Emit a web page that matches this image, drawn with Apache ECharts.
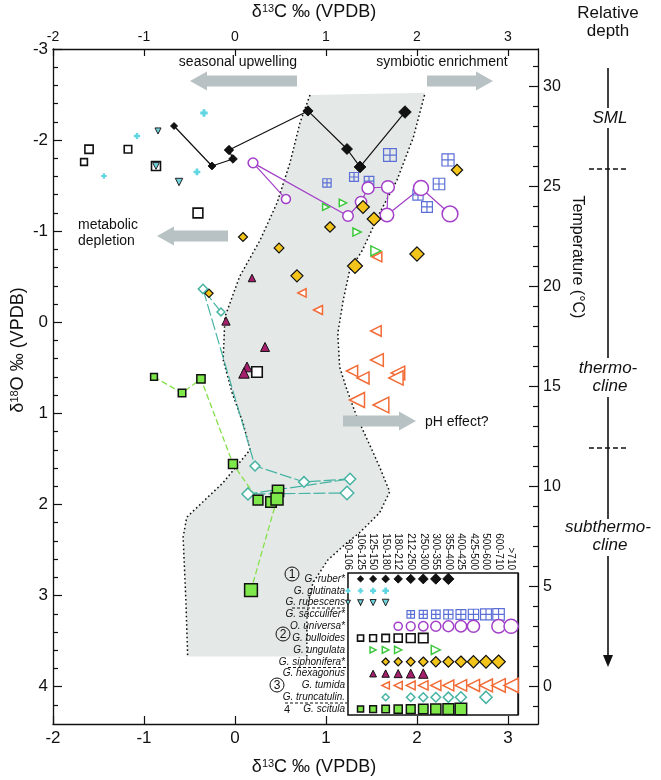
<!DOCTYPE html>
<html><head><meta charset="utf-8">
<script src="https://cdn.jsdelivr.net/npm/echarts@6/dist/echarts.min.js"></script>
<style>html,body{margin:0;padding:0;background:#fff}#c{width:661px;height:780px}</style>
</head><body><div id="c"></div>
<script>
// ---------------- DATA ----------------
const sizeFractions = ['80-106','106-125','125-150','150-180','180-212','212-250','250-300','300-355','355-400','400-425','425-500','500-600','600-710','>710'];
const speciesNames = ['G. ruber*','G. glutinata','G. rubescens','G. sacculifer*','O. universa*','G. bulloides','G. ungulata','G. siphonifera*','G. hexagonus','G. tumida','G. truncatulin.','G. scitula'];
const xTicks = [-2,-1,0,1,2,3];
const yTicks = [-3,-2,-1,0,1,2,3,4];
const tempTicks = [0,5,10,15,20,25,30];

// each point: [d13C, d18O, size-fraction index]
const ruber = [[-0.67,-2.155,1],[-0.253,-1.716,2],[-0.022,-1.793,3],[-0.066,-1.891,4],[0.802,-2.32,5],[1.231,-1.902,6],[1.374,-1.705,7],[1.868,-2.308,8]];
const glutinata = [[-0.341,-2.297,3],[-1.077,-2.045,1],[-1.44,-1.606,0],[-0.418,-1.65,2]];
const rubescens = [[-0.846,-2.10,1],[-0.615,-1.54,3],[-0.868,-1.716,2]];
const sacculifer = [[1.011,-1.53,5],[1.308,-1.595,6],[1.473,-1.55,7],[2.011,-1.397,8],[2.11,-1.266,9],[2.242,-1.518,10],[2.341,-1.782,11],[1.703,-1.836,12]];
const universa = [[0.56,-1.353,4],[0.198,-1.75,5],[1.242,-1.167,6],[1.385,-1.32,7],[1.462,-1.474,8],[1.681,-1.485,9],[1.67,-1.178,10],[2.044,-1.474,12],[2.363,-1.189,13]];
const bulloides = [[-1.659,-1.76,1],[-1.176,-1.90,2],[-1.604,-1.90,3],[-0.868,-1.716,4],[-0.407,-1.20,5],[0.242,0.546,6]];
const ungulata = [[1.0,-1.266,2],[1.187,-1.31,3],[1.341,-0.99,4],[1.549,-0.783,7]];
const siphonifera = [[-0.286,-0.318,3],[0.088,-0.936,4],[0.484,-0.816,5],[1.044,-1.046,6],[2.44,-1.672,7],[0.681,-0.51,8],[1.407,-1.266,9],[1.527,-1.134,10],[2.0,-0.75,11],[1.319,-0.618,12]];
const hexagonus = [[0.187,-0.486,2],[-0.099,-0.014,3],[0.33,0.271,4],[0.132,0.49,5],[0.099,0.556,6]];
const tumida = [[0.736,-0.322,3],[0.912,-0.135,4],[1.56,-0.717,5],[1.549,0.095,6],[1.286,0.535,7],[1.407,0.611,8],[1.56,0.414,9],[1.791,0.556,10],[1.769,0.611,11],[1.341,0.853,12],[1.604,0.908,13]];
const truncatulinoides = [[-0.154,-0.113,3],[-0.352,-0.366,5],[0.22,1.577,6],[0.758,1.753,7],[1.264,1.72,8],[0.143,1.885,9],[1.231,1.874,11]];
const scitula = [[-0.89,0.60,1],[-0.582,0.776,2],[-0.374,0.622,3],[-0.022,1.555,4],[0.253,1.951,5],[0.396,1.973,6],[0.473,1.852,7],[0.462,1.94,8],[0.176,2.939,9]];

// size fractions present per species (legend matrix), species order
const legendFractions = [
  [1,2,3,4,5,6,7,8],
  [0,1,2,3],
  [0,1,2,3],
  [5,6,7,8,9,10,11,12],
  [4,5,6,7,8,9,10,12,13],
  [1,2,3,4,5,6],
  [2,3,4,7],
  [3,4,5,6,7,8,9,10,11,12],
  [2,3,4,5,6],
  [3,4,5,6,7,8,9,10,11,12,13],
  [3,5,6,7,8,9,11],
  [1,2,3,4,5,6,7,8,9]
];

// shaded equilibrium band boundaries [d13C, d18O]
const bandLeft = [[0.824,-2.495],[0.714,-2.19],[0.604,-1.75],[0.462,-1.31],[0.275,-0.90],[0.05,-0.5],[-0.11,-0.06],[-0.13,0.41],[-0.03,0.78],[0.09,1.11],[0.165,1.40],[-0.13,1.76],[-0.53,2.14],[-0.57,2.36],[-0.54,3.05],[-0.52,3.67]];
const bandRight = [[0.79,3.67],[0.79,3.27],[0.81,3.05],[0.857,2.86],[1.02,2.61],[1.23,2.42],[1.37,2.31],[1.59,2.09],[1.70,1.86],[1.59,1.59],[1.505,1.40],[1.34,1.04],[1.23,0.74],[1.15,0.49],[1.13,0.12],[1.19,-0.245],[1.26,-0.57],[1.40,-0.79],[1.59,-1.20],[1.78,-1.56],[1.96,-2.03],[2.09,-2.52]];

// ---------------- STYLE ----------------
const FONT = 'Liberation Sans, Arial, Helvetica, sans-serif';
const plusPath = 'path://M3 0H7V3H10V7H7V10H3V7H0V3H3Z';
const gridSq = 'path://M0 0H10V10H0Z M5 0V10 M0 5H10';
const styles = [
  {sym:'diamond', fill:'#111', stroke:'#000', bw:0.8, k:1.05, line:{color:'#111', width:1.2}},
  {sym:plusPath, fill:'#5fd6e2', stroke:'#5fd6e2', bw:0, k:0.9},
  {sym:'triangle', rot:180, fill:'#6fd3dc', stroke:'#222', bw:1, k:0.9, z:5},
  {sym:gridSq, fill:'rgba(0,0,0,0)', stroke:'#5b6fd6', bw:1.2, k:0.85},
  {sym:'circle', fill:'#fff', stroke:'#a23fc8', bw:1.5, k:1, line:{color:'#a23fc8', width:1.2}},
  {sym:'rect', fill:'#fff', stroke:'#111', bw:1.6, k:1},
  {sym:'triangle', rot:-90, fill:'#fff', stroke:'#3cc83c', bw:1.5, k:0.9},
  {sym:'diamond', fill:'#f3c41a', stroke:'#111', bw:1.2, k:1},
  {sym:'triangle', fill:'#a51f6c', stroke:'#111', bw:1, k:1},
  {sym:'triangle', rot:90, fill:'#fff', stroke:'#f26b35', bw:1.5, k:1},
  {sym:'diamond', fill:'#fff', stroke:'#47b3a3', bw:1.5, k:0.95, line:{color:'#47b3a3', width:1.2, type:[12,3]}},
  {sym:'rect', fill:'#7ee84a', stroke:'#111', bw:1.5, k:1, line:{color:'#86e04a', width:1.3, type:[6,3]}}
];
function sz(col, k){ return (6 + col*0.75)*k; }

const mainData = [ruber, glutinata, rubescens, sacculifer, universa, bulloides, ungulata, siphonifera, hexagonus, tumida, truncatulinoides, scitula];

const series = [];
// band
series.push({
  type:'custom', xAxisIndex:0, yAxisIndex:0, z:1, silent:true, data:[[0,0]],
  renderItem:(params, api)=>({type:'polygon', shape:{points: bandLeft.concat(bandRight).map(p=>api.coord(p))}, style:{fill:'#e4e9e7'}})
});
[bandLeft, bandRight].forEach(b=>series.push({
  type:'line', xAxisIndex:0, yAxisIndex:0, data:b, symbol:'none', z:2, silent:true,
  lineStyle:{color:'#111', width:1.5, type:[1.6,2.6]}
}));
mainData.forEach((d,i)=>{
  const st = styles[i];
  const base = {
    name:speciesNames[i], xAxisIndex:0, yAxisIndex:0, data:d,
    symbol:st.sym, symbolRotate:st.rot||0,
    symbolSize:v=>sz(v[2], st.k),
    itemStyle:{color:st.fill, borderColor:st.stroke, borderWidth:st.bw, opacity:1},
    z:st.z||3, silent:true
  };
  if (st.line) series.push(Object.assign(base,{type:'line', showSymbol:true, showAllSymbol:true, lineStyle:st.line}));
  else series.push(Object.assign(base,{type:'scatter'}));
});
legendFractions.forEach((cols,i)=>{
  const st = styles[i];
  series.push({
    type:'scatter', xAxisIndex:2, yAxisIndex:4, data:cols.map(c=>[c,i,c]),
    symbol:st.sym, symbolRotate:st.rot||0, symbolSize:v=>sz(v[2], st.k)*0.9,
    itemStyle:{color:st.fill, borderColor:st.stroke, borderWidth:st.bw, opacity:1},
    z:6, silent:true
  });
});

// ---------------- ANNOTATIONS ----------------
function arrowPts(x0, x1, y, bh, hh, hl){
  const d = Math.sign(x1-x0), xb = x1 - d*hl;
  return [[x0,y-bh],[xb,y-bh],[xb,y-hh],[x1,y],[xb,y+hh],[xb,y+bh],[x0,y+bh]];
}
const G = [];
const gray = '#b8c2c4';
[[297,190,81],[427,493,81],[228,157,236],[343,416,421]].forEach(([a,b,y])=>
  G.push({type:'polygon', shape:{points:arrowPts(a,b,y,5.5,9.5,17)}, style:{fill:gray}, z:10}));
function txt(x,y,text,o){
  o = o||{};
  G.push({type:'text', x:x, y:y, rotation:o.rot||0, z:11,
    style:Object.assign({text:text, fill:'#111', fontFamily:FONT, fontSize:o.fs||14, fontStyle:o.it?'italic':'normal',
      textAlign:o.align||'center', textVerticalAlign:'middle'}, o.rich?{rich:o.rich}:{})});
}
txt(238,62,'seasonal upwelling');
txt(442,62,'symbiotic enrichment');
txt(78,225,'metabolic',{align:'left'});
txt(78,241,'depletion',{align:'left'});
txt(425,422,'pH effect?',{align:'left'});

const richT = {a:{fontSize:18, fontFamily:FONT, fill:'#111'}, s:{fontSize:11, fontFamily:FONT, fill:'#111', verticalAlign:'top', lineHeight:18}};
txt(314,12,'{a|δ}{s|13}{a|C ‰ (VPDB)}',{rich:richT});
txt(314,767,'{a|δ}{s|13}{a|C ‰ (VPDB)}',{rich:richT});
txt(18,350,'{a|δ}{s|18}{a|O ‰ (VPDB)}',{rich:richT, rot:Math.PI/2});
txt(577,257,'Temperature (°C)',{fs:16, rot:-Math.PI/2});

// relative depth column
txt(608,13,'Relative',{fs:17});
txt(608,31,'depth',{fs:17});
txt(610,118,'SML',{fs:17, it:true});
txt(608,368,'thermo-',{fs:17, it:true});
txt(610,386,'cline',{fs:17, it:true});
txt(608,527,'subthermo-',{fs:17, it:true});
txt(610,545,'cline',{fs:17, it:true});
[[68,108],[128,358],[397,519],[556,660]].forEach(([a,b])=>
  G.push({type:'line', shape:{x1:608,y1:a,x2:608,y2:b}, style:{stroke:'#111', lineWidth:1.6}, z:10}));
G.push({type:'polygon', shape:{points:[[603,655],[613,655],[608,667]]}, style:{fill:'#111'}, z:10});
[169,448].forEach(y=>G.push({type:'line', shape:{x1:589,y1:y,x2:629,y2:y}, style:{stroke:'#111', lineWidth:1.3, lineDash:[5,3]}, z:10}));

// inset legend decorations
[[292,608],[288,667.5],[285,703]].forEach(([x,y])=>
  G.push({type:'line', shape:{x1:x,y1:y,x2:347,y2:y}, style:{stroke:'#111', lineWidth:1, lineDash:[3,2]}, z:10}));
[[292,574,'1'],[283,634,'2'],[277,685,'3']].forEach(([x,y,t])=>{
  G.push({type:'circle', shape:{cx:x,cy:y,r:7}, style:{fill:'none', stroke:'#111', lineWidth:1}, z:10});
  txt(x,y+0.5,t,{fs:12});
});
txt(287,710,'4',{fs:11});

// ---------------- CHART ----------------
const tickStyle = {color:'#111', width:1.2};
const option = {
  animation:false,
  backgroundColor:'#fff',
  textStyle:{fontFamily:FONT},
  grid:[
    {left:53, top:49, width:485, height:675, show:false},
    {left:348, top:573, width:170, height:142, show:true, borderColor:'#111', borderWidth:1.5, backgroundColor:'#fff', z:4}
  ],
  xAxis:[
    {type:'value', gridIndex:0, position:'bottom', min:-2, max:3.33,
     axisLine:{onZero:false, lineStyle:{color:'#111', width:1.3}},
     axisTick:{inside:true, length:8, customValues:xTicks, lineStyle:tickStyle},
     axisLabel:{customValues:xTicks, fontSize:17, margin:6, color:'#111', fontFamily:FONT},
     splitLine:{show:false}},
    {type:'value', gridIndex:0, position:'top', min:-2, max:3.33,
     axisLine:{onZero:false, lineStyle:{color:'#111', width:1.3}},
     axisTick:{inside:true, length:7, customValues:xTicks, lineStyle:tickStyle},
     axisLabel:{customValues:xTicks, fontSize:14, margin:5, color:'#111', fontFamily:FONT},
     splitLine:{show:false}},
    {type:'value', gridIndex:1, position:'top', min:0, max:13.55, interval:1,
     axisLine:{show:false, onZero:false}, axisTick:{show:false},
     axisLabel:{rotate:90, fontSize:10, margin:3, color:'#111', fontFamily:FONT,
       formatter:v=>Number.isInteger(v) && sizeFractions[v] ? sizeFractions[v] : ''},
     splitLine:{show:true, lineStyle:{color:'#111', width:1.3}}}
  ],
  yAxis:[
    {type:'value', gridIndex:0, position:'left', min:-3, max:4.41, inverse:true,
     axisLine:{show:true, onZero:false, lineStyle:{color:'#111', width:1.3}},
     axisTick:{show:true, inside:true, length:9, customValues:yTicks, lineStyle:tickStyle},
     axisLabel:{customValues:yTicks, fontSize:17, margin:5, color:'#111', fontFamily:FONT},
     splitLine:{show:false}},
    {type:'value', gridIndex:0, position:'left', min:-3, max:4.41, inverse:true,
     axisLine:{show:false, onZero:false},
     axisTick:{show:true, inside:true, length:5, lineStyle:tickStyle,
       customValues:yTicks.slice(0,-1).flatMap(v=>[0.2,0.4,0.6,0.8].map(f=>+(v+f).toFixed(1))).concat([4.2])},
     axisLabel:{show:false}, splitLine:{show:false}},
    {type:'value', gridIndex:0, position:'right', min:-1.87, max:31.88,
     axisLine:{show:true, onZero:false, lineStyle:{color:'#111', width:1.3}},
     axisTick:{show:true, inside:true, length:9, customValues:tempTicks, lineStyle:tickStyle},
     axisLabel:{customValues:tempTicks, fontSize:16, margin:5, color:'#111', fontFamily:FONT},
     splitLine:{show:false}},
    {type:'value', gridIndex:0, position:'right', min:-1.87, max:31.88,
     axisLine:{show:false, onZero:false},
     axisTick:{show:true, inside:true, length:5, lineStyle:tickStyle,
       customValues:Array.from({length:33},(_,i)=>i-1).filter(v=>v%5!==0)},
     axisLabel:{show:false}, splitLine:{show:false}},
    {type:'category', gridIndex:1, data:speciesNames, inverse:true, z:10,
     axisLine:{show:false, onZero:false}, axisTick:{show:false},
     axisLabel:{interval:0, fontSize:10, fontStyle:'italic', margin:3, color:'#111', fontFamily:FONT},
     splitLine:{show:false}}
  ],
  graphic:G,
  series:series
};
const chart = echarts.init(document.getElementById('c'));
chart.setOption(option);
</script>
</body></html>
